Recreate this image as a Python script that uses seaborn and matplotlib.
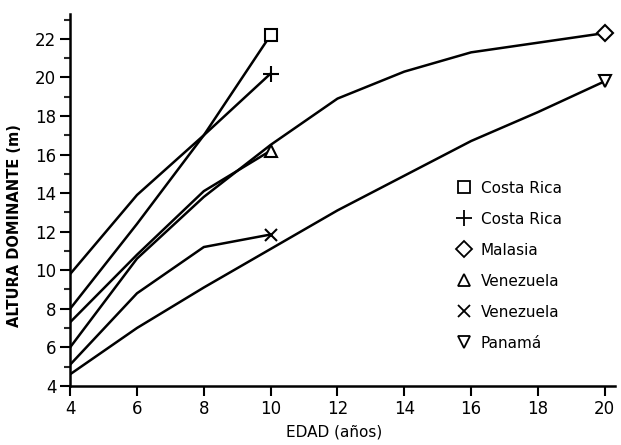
import numpy as np
import pandas as pd
import seaborn as sns
import matplotlib.pyplot as plt
from matplotlib.lines import Line2D
from matplotlib.ticker import MultipleLocator

# ages (years) and dominant height (m)
edad_corta = [4, 6, 8, 10]
edad_larga = [4, 6, 8, 10, 12, 14, 16, 18, 20]

costa_rica_cuadro = [8.0, 12.4, 17.0, 22.2]
costa_rica_cruz = [9.8, 13.9, 17.0, 20.2]
malasia = [6.0, 10.6, 13.8, 16.5, 18.9, 20.3, 21.3, 21.8, 22.3]
venezuela_tri = [7.3, 10.8, 14.1, 16.2]
venezuela_x = [5.1, 8.8, 11.2, 11.85]
panama = [4.6, 7.0, 9.1, 11.1, 13.1, 14.9, 16.7, 18.2, 19.8]

etiquetas = ["Costa Rica", "Costa Rica", "Malasia", "Venezuela", "Venezuela", "Panamá"]
marcadores = ["s", "+", "D", "^", "x", "v"]
series = [
    (edad_corta, costa_rica_cuadro),
    (edad_corta, costa_rica_cruz),
    (edad_larga, malasia),
    (edad_corta, venezuela_tri),
    (edad_corta, venezuela_x),
    (edad_larga, panama),
]

sns.set_style("ticks")
plt.rcParams['font.family'] = ['DejaVu Sans']
plt.rcParams['text.color'] = 'black'
plt.rcParams['axes.labelcolor'] = 'black'

fig = plt.figure(figsize=(6.21, 4.45), dpi=100)
ax = fig.add_axes([0.113, 0.133, 0.877, 0.836])

msizes = {"s": 9, "+": 11, "D": 8.5, "^": 8.5, "x": 8, "v": 8.5}
for i, (x, y) in enumerate(series):
    d = pd.DataFrame({"edad": x, "altura": y})
    sns.lineplot(data=d, x="edad", y="altura", ax=ax, color="black", lw=1.8)
    m = marcadores[i]
    ax.plot(x[-1], y[-1], marker=m, ms=msizes[m], mfc="white", mec="black",
            mew=1.5, ls="none", zorder=5, clip_on=False)

ax.set_xlim(4, 20.3)
ax.set_ylim(4, 23.3)
ax.set_xticks(range(4, 21, 2))
ax.set_yticks(range(4, 23, 2))
ax.yaxis.set_minor_locator(MultipleLocator(1))
ax.tick_params(axis="both", which="major", length=7, width=1.5, labelsize=12,
               pad=3, color="black", labelcolor="black")
ax.tick_params(axis="y", which="minor", length=4.3, width=1.5)
sns.despine(ax=ax)
for s in ["left", "bottom"]:
    ax.spines[s].set_linewidth(1.8)
    ax.spines[s].set_color("black")

ax.set_xlabel("EDAD (años)", fontsize=11)
ax.set_ylabel("ALTURA DOMINANTE (m)", fontsize=10.5, fontweight="bold")
ax.xaxis.set_label_coords(0.485, -0.105)
ax.yaxis.set_label_coords(-0.088, 0.43)

handles = [Line2D([], [], marker=m, ls="none", color="black", mfc="white",
                  mec="black", mew=1.3, ms=msizes[m]) for m in marcadores]
leg = ax.legend(handles, etiquetas, loc="center left", bbox_to_anchor=(0.684, 0.323),
                frameon=False, fontsize=11, labelspacing=1.05, handletextpad=0.6,
                handlelength=1.0)
for t in leg.get_texts():
    t.set_color("black")

fig.savefig("out.png", dpi=100, facecolor="white")
